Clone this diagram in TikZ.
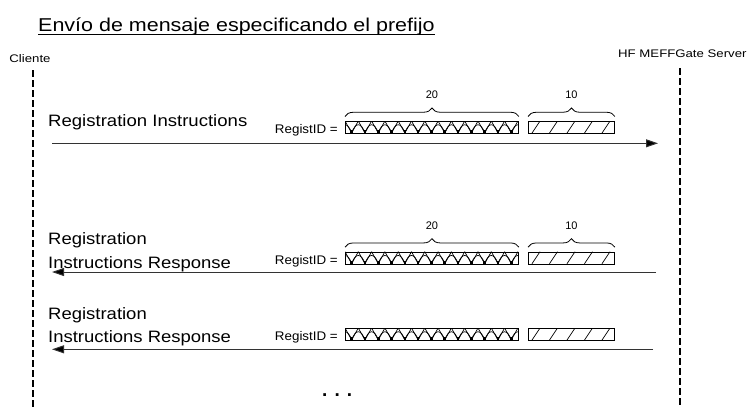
\documentclass[tikz,border=0pt]{standalone}
\usepackage{fontspec}
\setmainfont{Liberation Sans}
\usepackage{graphicx}
\usetikzlibrary{arrows.meta,decorations.pathreplacing}
\newcommand{\hstr}[2]{\scalebox{#1}[1]{#2}}
\tikzset{
  lifeline/.style={line width=2pt,dash pattern=on 6.5pt off 3.5pt},
  msg/.style={line width=1pt,draw=black!80,-{Triangle[length=12pt,width=8pt,fill=black]}},
  msgtext/.style={inner sep=0pt,anchor=base west,font=\fontsize{16.5}{23.5}\selectfont,align=left},
  idlabel/.style={inner sep=0pt,anchor=base east,font=\fontsize{12.5}{14}\selectfont},
  field/.style={draw=black,line width=0.9pt,anchor=north west,minimum height=12pt,inner sep=0pt},
  hatch/.style={line width=0.7pt},
  brace/.style={decorate,decoration={brace,amplitude=8.5pt},line width=0.8pt},
  count/.style={inner sep=0pt,anchor=base,font=\fontsize{11}{13}\selectfont},
  actor/.style={inner sep=0pt,font=\fontsize{11}{13}\selectfont},
  regid/.pic={
    \begin{scope}
      \clip (0,0) rectangle (173,12);
      \foreach \i in {0,...,13} {
        \draw[hatch] ({\i*13.3},0) -- ({\i*13.3+6.65},12) -- ({(\i+1)*13.3},0);
        \draw[hatch] ({\i*13.3-6.65},12) .. controls ({\i*13.3-3},1) and ({\i*13.3+3},1) .. ({\i*13.3+6.65},12);
        \fill ({\i*13.3+6.65-1.3},12) rectangle ++(2.6,-2.6);
      }
    \end{scope}
    \begin{scope}
      \clip (183,0) rectangle (269,12);
      \foreach \k in {0,...,4} {
        \draw[hatch] ({187+\k*17.5},12) -- ++(8,-12);
      }
    \end{scope}
    \node[idlabel] (lab) at (-7,12.5) {\hstr{1.07}{RegistID =}};
    \node[field,minimum width=173pt] (f20) at (0,0) {};
    \node[field,minimum width=86pt] (f10) at (183,0) {};
  }
}
\begin{document}
\begin{tikzpicture}[x=1pt,y=-1pt]
\useasboundingbox (0,0) rectangle (750,408);

% title
\node[inner sep=0pt,anchor=base west,font=\fontsize{18.6}{22}\selectfont] (title) at (38,31.7)
  {\hstr{1.155}{Envío de mensaje especificando el prefijo}};
\draw[line width=1.2pt] ([yshift=-3pt]title.base west) -- ([yshift=-3pt]title.base east);

% actors
\node[actor,anchor=base] (cli) at (30,62) {\hstr{1.2}{Cliente}};
\node[actor,anchor=base west] (srv) at (618,57) {\hstr{1.2}{HF MEFFGate Server}};

\coordinate (cliTop) at (33,70);
\coordinate (cliBot) at (33,408);
\coordinate (srvTop) at (680,68);
\coordinate (srvBot) at (680,408);
\draw[lifeline] (cliTop) -- (cliBot);
\draw[lifeline] (srvTop) -- (srvBot);

% message 1
\node[msgtext] (t1) at (48,126.5) {\hstr{1.125}{Registration Instructions}};
\pic (r1) at (345,121) {regid};
\coordinate (m1s) at (52,143.3);
\coordinate (m1e) at (658,143.3);
\draw[msg] (m1s) -- (m1e);

% message 2
\node[msgtext] (t2) at (48,268.3) {\hstr{1.12}{Registration}\\\hstr{1.12}{Instructions Response}};
\pic (r2) at (345,251.7) {regid};
\coordinate (m2s) at (656,272);
\coordinate (m2e) at (52,272);
\draw[msg] (m2s) -- (m2e);

% message 3
\node[msgtext] (t3) at (48,342.7) {\hstr{1.12}{Registration}\\\hstr{1.12}{Instructions Response}};
\pic (r3) at (345,328) {regid};
\coordinate (m3s) at (653,349.3);
\coordinate (m3e) at (52,349.3);
\draw[msg] (m3s) -- (m3e);

% braces
\foreach \r in {r1,r2} {
  \draw[brace] ([yshift=4.5pt]\r f20.north west) -- ([yshift=4.5pt]\r f20.north east);
  \draw[brace] ([yshift=4.5pt]\r f10.north west) -- ([yshift=4.5pt]\r f10.north east);
  \node[count] (\r n20) at ([yshift=22.5pt]\r f20.north) {20};
  \node[count] (\r n10) at ([yshift=22.5pt]\r f10.north) {10};
}

% ellipsis
\node[inner sep=0pt,anchor=base west,font=\fontsize{19}{22}\selectfont\bfseries] (dots) at (322,396.5) {. . .};
\end{tikzpicture}
\end{document}
